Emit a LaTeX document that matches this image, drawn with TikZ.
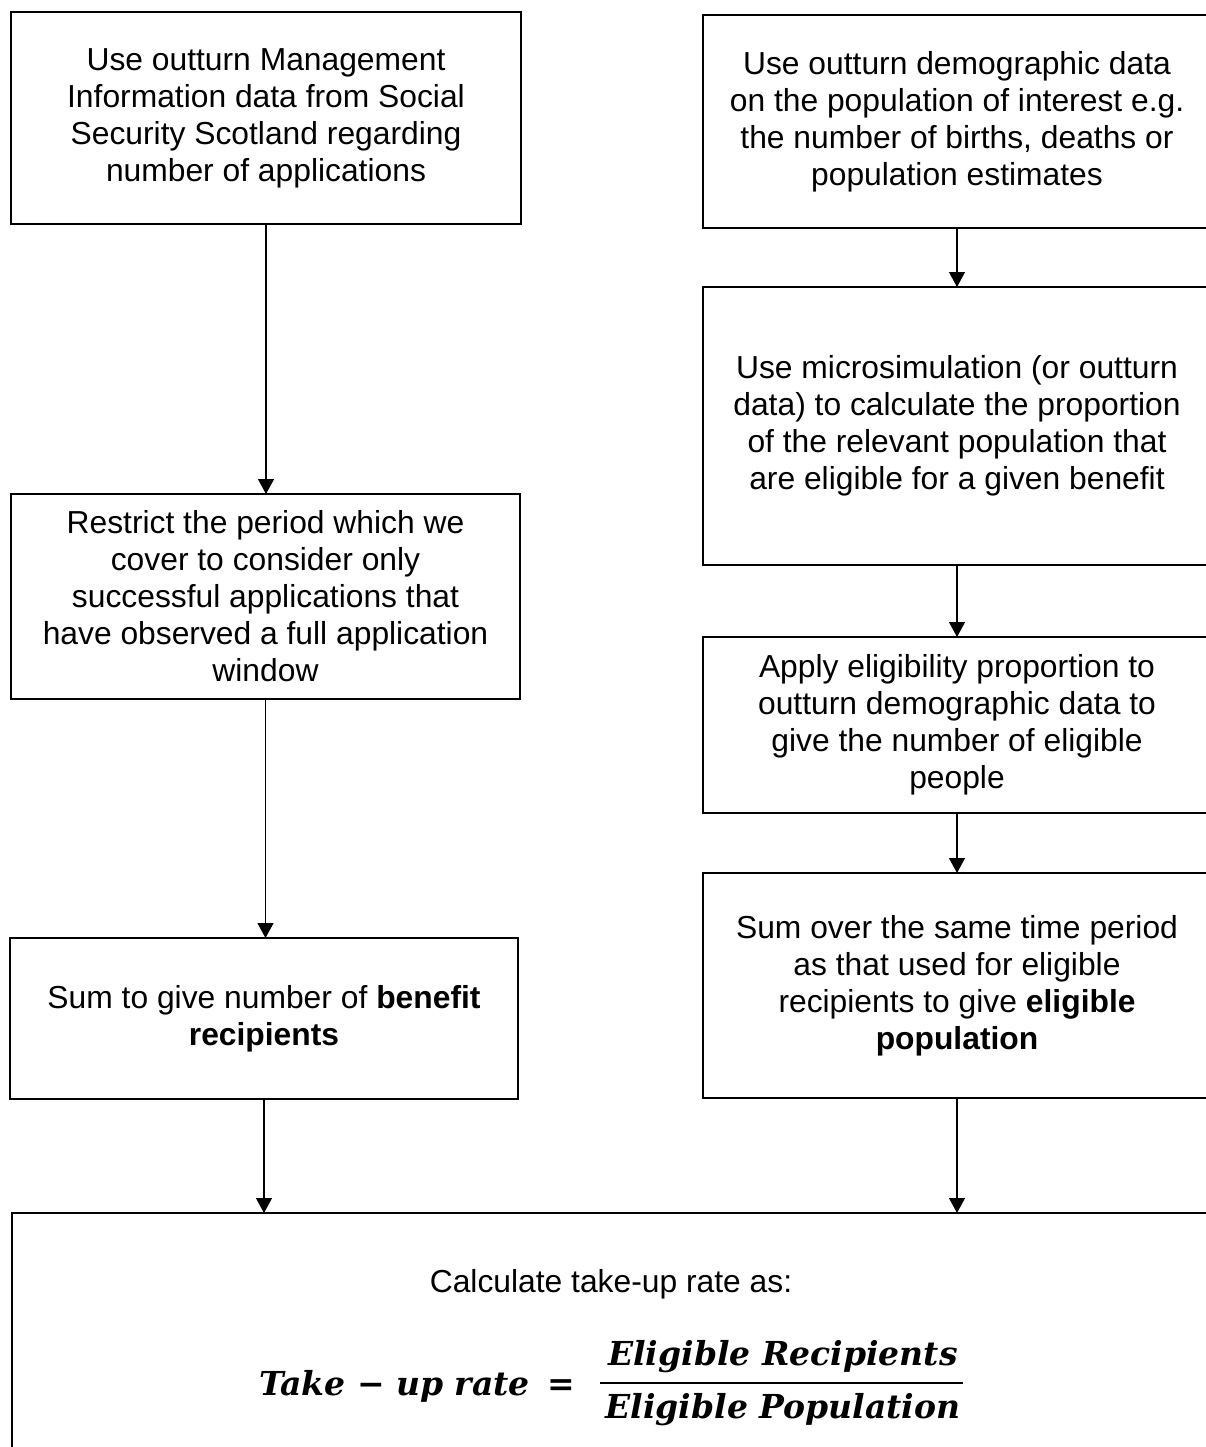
\documentclass[tikz,border=0pt]{standalone}
\usepackage{fontspec}
\setmainfont{Liberation Sans}
\newfontfamily\fmlfont{DejaVu Serif}
\usetikzlibrary{arrows.meta}
\tikzset{
  box/.style={draw=black, line width=2.3pt, rectangle, inner sep=0pt, outer sep=0pt,
    align=center, font=\fontsize{31.8pt}{37pt}\selectfont},
  flow/.style={line width=1.2pt, -{Triangle[width=16pt,length=15pt]}},
  fml/.style={font=\fmlfont\bfseries\itshape\fontsize{33pt}{38pt}\selectfont, inner sep=0pt},
  plain/.style={font=\fontsize{31.8pt}{37pt}\selectfont, inner sep=0pt},
}
\begin{document}
\begin{tikzpicture}[x=1pt,y=-1pt]
\useasboundingbox (0,0) rectangle (1206,1447);
\clip (0,0) rectangle (1206,1447);

% left column
\node[box, minimum width=510pt, minimum height=212pt] (L1) at (266,118)
  {Use outturn Management\\Information data from Social\\Security Scotland regarding\\number of applications};
\node[box, minimum width=509pt, minimum height=205pt] (L2) at (265.5,596.5)
  {Restrict the period which we\\cover to consider only\\successful applications that\\have observed a full application\\window};
\node[box, minimum width=508pt, minimum height=161pt] (L3) at (264,1018.5)
  {Sum to give number of \textbf{benefit}\\\textbf{recipients}};

% right column
\node[box, minimum width=508pt, minimum height=213pt] (R1) at (957,121.5)
  {Use outturn demographic data\\on the population of interest e.g.\\the number of births, deaths or\\population estimates};
\node[box, minimum width=508pt, minimum height=278pt] (R2) at (957,426)
  {Use microsimulation (or outturn\\data) to calculate the proportion\\of the relevant population that\\are eligible for a given benefit};
\node[box, minimum width=508pt, minimum height=176pt] (R3) at (957,725)
  {Apply eligibility proportion to\\outturn demographic data to\\give the number of eligible\\people};
\node[box, minimum width=508pt, minimum height=225pt] (R4) at (957,985.5)
  {Sum over the same time period\\as that used for eligible\\recipients to give \textbf{eligible}\\\textbf{population}};

% bottom box
\node[box, minimum width=1198pt, minimum height=257pt] (B) at (611,1341.5) {};
\node[plain, anchor=base] (calc) at (611,1292) {Calculate take-up rate as:};
\node[fml, anchor=base] (lhs) at (394.5,1395) {Take − up rate};
\node[fml, anchor=base] (eq) at (561,1395) {=};
\node[fml, anchor=base] (num) at (783,1365) {Eligible Recipients};
\node[fml, anchor=base] (den) at (783,1418) {Eligible Population};
\coordinate (barL) at (600,1383);
\coordinate (barR) at (963,1383);
\draw[line width=2.3pt] (barL) -- (barR);

% connectors
\draw[flow] (L1.south) -- (L1.south |- L2.north);
\draw[flow] (L2.south) -- (L2.south |- L3.north);
\draw[flow] (L3.south) -- (L3.south |- B.north);
\draw[flow] (R1.south) -- (R2.north);
\draw[flow] (R2.south) -- (R3.north);
\draw[flow] (R3.south) -- (R4.north);
\draw[flow] (R4.south) -- (R4.south |- B.north);
\end{tikzpicture}
\end{document}
